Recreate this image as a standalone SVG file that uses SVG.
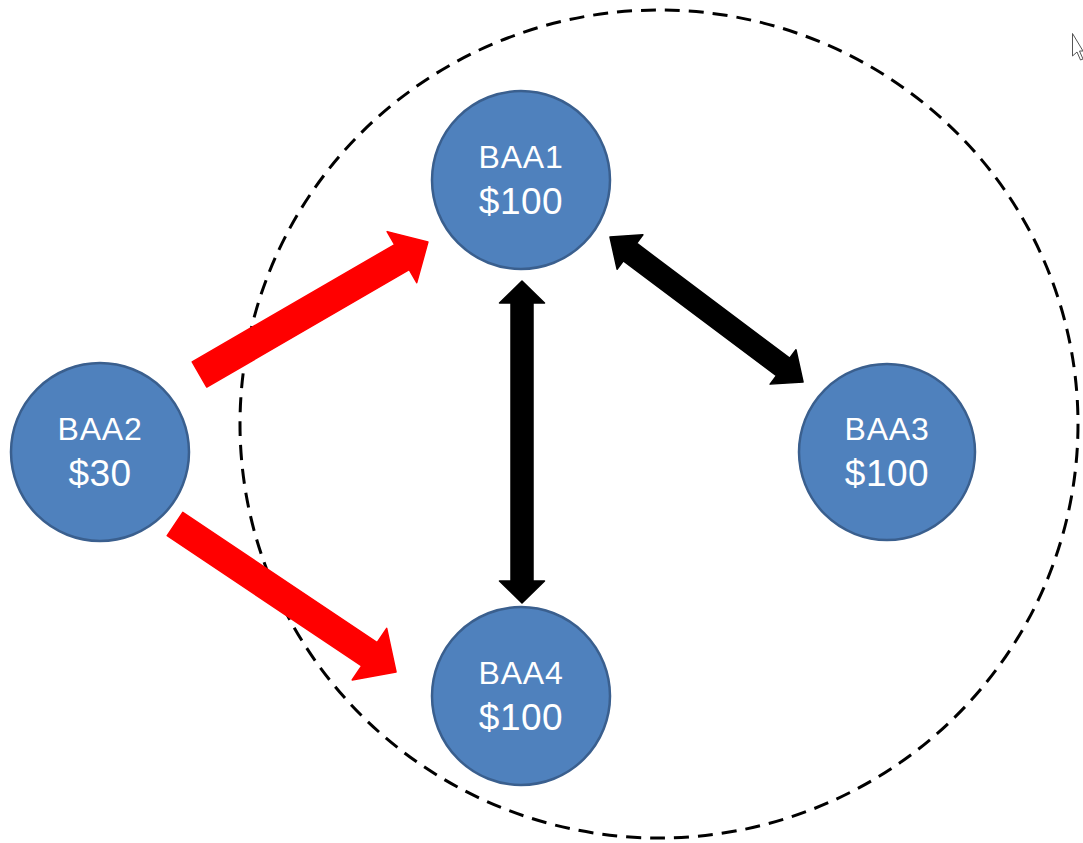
<svg xmlns="http://www.w3.org/2000/svg" width="1083" height="843" viewBox="0 0 1083 843">
<defs>
<style>
.node circle{fill:#4f81bd;stroke:#3a5f8e;stroke-width:2.5}
.t1{font-family:"Liberation Sans",Arial,sans-serif;font-size:32px;letter-spacing:0.8px;fill:#fff;text-anchor:middle}
.t2{font-family:"Liberation Sans",Arial,sans-serif;font-size:37px;letter-spacing:0.5px;fill:#fff;text-anchor:middle}
.red{fill:#ff0000;stroke:#ff0000;stroke-width:1.5;stroke-linejoin:round}
.blk{fill:#000;stroke:#000;stroke-width:1.5;stroke-linejoin:round}
</style>
</defs>
<rect width="1083" height="843" fill="#fff"/>
<ellipse id="boundary" cx="659" cy="424" rx="419" ry="414" fill="none" stroke="#000" stroke-width="3" stroke-dasharray="15 9"/>
<g id="connectors">
<polygon class="red" transform="translate(199.5,374.5) rotate(-30.1)" points="0,-14.5 234,-14.5 234,-29.5 264,0 234,29.5 234,14.5 0,14.5"/>
<polygon class="red" transform="translate(175,524) rotate(33.8)" points="0,-14 234,-14 234,-31 266,0 234,31 234,14 0,14"/>
<polygon class="blk" transform="translate(522,281) rotate(90)" points="0,0 22,-22.5 22,-11 300,-11 300,-22.5 322,0 300,22.5 300,11 22,11 22,22.5"/>
<polygon class="blk" transform="translate(610,237) rotate(36.9)" points="0,0 25,-21.5 25,-11 216.4,-11 216.4,-21.5 241.4,0 216.4,21.5 216.4,11 25,11 25,21.5"/>
</g>
<g id="BAA1" class="node"><circle cx="521" cy="180" r="89"/><text class="t1" x="521" y="168">BAA1</text><text class="t2" x="521" y="214">$100</text></g>
<g id="BAA2" class="node"><circle cx="100" cy="452" r="89"/><text class="t1" x="100" y="440">BAA2</text><text class="t2" x="100" y="486">$30</text></g>
<g id="BAA3" class="node"><circle cx="887" cy="452" r="88"/><text class="t1" x="887" y="440">BAA3</text><text class="t2" x="887" y="486">$100</text></g>
<g id="BAA4" class="node"><circle cx="521" cy="696" r="89"/><text class="t1" x="521" y="684">BAA4</text><text class="t2" x="521" y="730">$100</text></g>
<path id="cursor" d="M1072.5,33.5 L1072.5,56 L1077,52 L1080.5,60 L1083,59 L1079.5,51 L1083,51 Z" fill="#fff" stroke="#555" stroke-width="1"/>
</svg>
